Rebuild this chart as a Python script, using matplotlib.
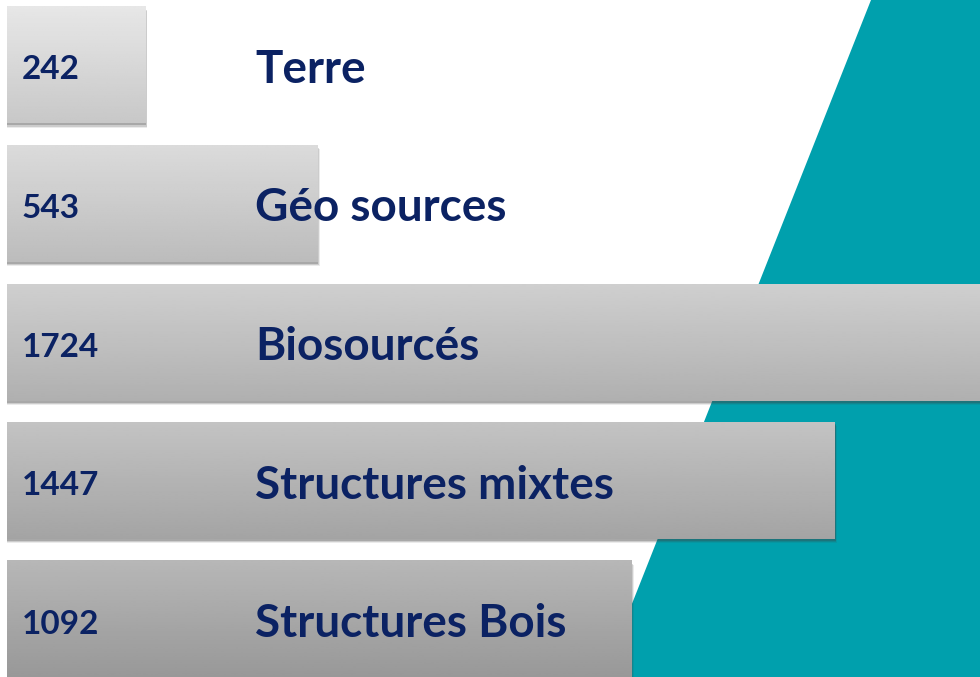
import matplotlib
matplotlib.use('Agg')
from matplotlib import pyplot as plt
from matplotlib.patches import Polygon, Rectangle
import numpy as np

# data, top to bottom
categories = ['Terre', 'Géo sources', 'Biosourcés', 'Structures mixtes', 'Structures Bois']
values = [242, 543, 1724, 1447, 1092]
value_labels = ['242', '543', '1724', '1447', '1092']

NAVY = '#0B2263'
TEAL = '#00A0AD'

plt.rcParams['font.family'] = ['Lato', 'DejaVu Sans']

fig = plt.figure(figsize=(9.8, 6.77), dpi=100)
ax = fig.add_axes([0, 0, 1, 1])
ax.axis('off')

# teal slanted background shape
ax.add_patch(Polygon([(0.889, 1.0), (1.0, 1.0), (1.0, 0.0), (0.615, 0.0)],
                     closed=True, transform=ax.transAxes, facecolor=TEAL,
                     edgecolor='none', zorder=0))

bar_h = 0.844
for i, (cat, val, lab) in enumerate(zip(categories, values, value_labels)):
    top = i - bar_h / 2
    bottom = i + bar_h / 2
    # soft drop shadow
    for k, a in enumerate([0.10, 0.18, 0.25]):
        off = 0.03 - k * 0.008
        ax.add_patch(Rectangle((0, top + off), val + 3.5 - k, bar_h,
                               facecolor='#404040', alpha=a, edgecolor='none',
                               zorder=1))
    # vertical grey gradient
    g_top = (231 - 12 * i) / 255.0
    g_bot = (200 - 12 * i) / 255.0
    grad = np.linspace(g_top, g_bot, 64).reshape(-1, 1)
    ax.imshow(grad, cmap='gray', vmin=0, vmax=1, aspect='auto',
              extent=(0, val, bottom, top), interpolation='bilinear', zorder=2)
    ax.text(26, i + 0.035, lab, color=NAVY, fontsize=24, fontweight='bold',
            ha='left', va='center', zorder=3)
    ax.text(434, i + 0.035, cat, color=NAVY, fontsize=33, fontweight='bold',
            ha='left', va='center', zorder=3)

ax.set_xlim(-12.2, 1701)
ax.set_ylim(4.416, -0.469)

fig.savefig('out.png', dpi=100)
